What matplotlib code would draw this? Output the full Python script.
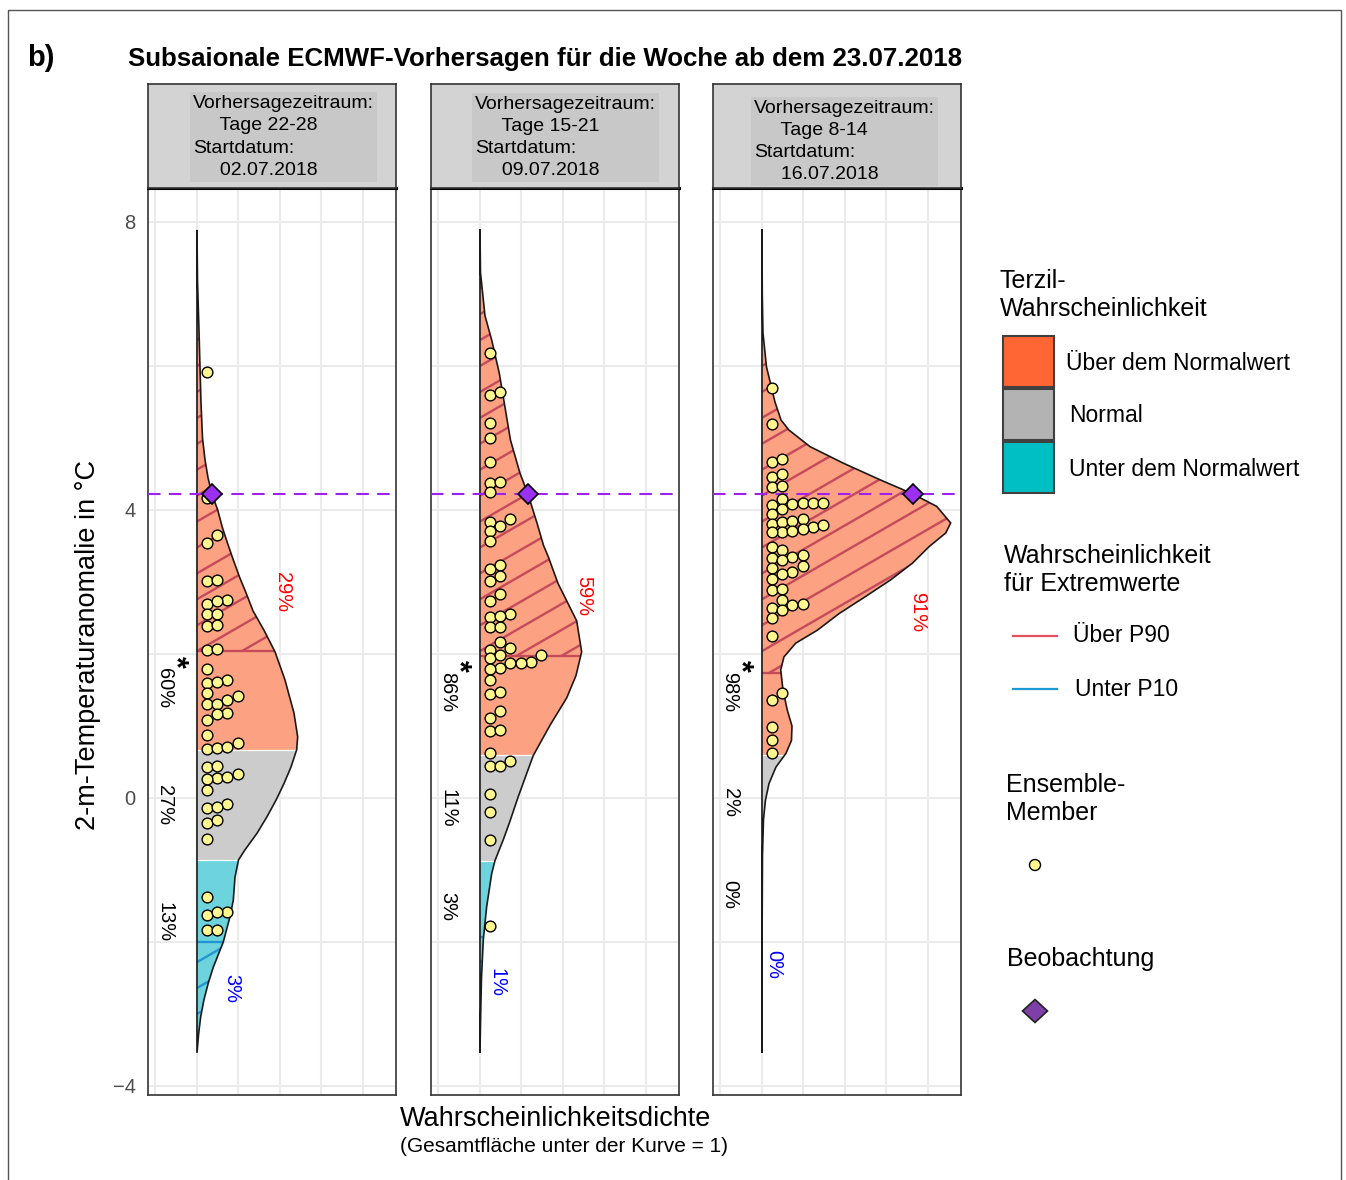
import numpy as np
import matplotlib
matplotlib.use("Agg")
import matplotlib.pyplot as plt
from matplotlib.patches import Polygon, Rectangle, Circle

plt.rcParams['font.family'] = ['Liberation Sans', 'DejaVu Sans']

W, H, DPI = 1346, 1180, 100

# ---------------- data ----------------
title = "Subsaionale ECMWF-Vorhersagen für die Woche ab dem 23.07.2018"
lead_times = ["Tage 22-28", "Tage 15-21", "Tage 8-14"]
start_dates = ["02.07.2018", "09.07.2018", "16.07.2018"]
observation = 4.22

curve1_temp = [7.89, 7.2, 6.5, 6.0, 5.5, 5.0, 4.7, 4.45, 4.22, 4.0, 3.76, 3.54, 3.3, 3.07,
               2.85, 2.6, 2.33, 2.03, 1.64, 1.18, 0.85, 0.67, 0.43, 0.2, -0.03, -0.26,
               -0.49, -0.72, -0.86, -1.1, -1.42, -1.65, -2.0, -2.35, -2.57, -2.8, -3.04,
               -3.27, -3.54]
curve1_dens = [0.0, 0.0012, 0.0048, 0.0072, 0.0096, 0.0133, 0.0193, 0.0265, 0.0361, 0.0499,
               0.061, 0.0735, 0.0879, 0.1024, 0.1181, 0.1349, 0.1614, 0.188, 0.212, 0.2337,
               0.2426, 0.2402, 0.2265, 0.2096, 0.1904, 0.1687, 0.1446, 0.1157, 0.1, 0.0916,
               0.0875, 0.0795, 0.0634, 0.0393, 0.0272, 0.0169, 0.0089, 0.0041, 0.0]

curve2_temp = [7.9, 7.3, 6.7, 6.36, 5.9, 5.43, 4.97, 4.51, 4.22, 3.82, 3.51, 3.35, 2.98,
               2.46, 2.03, 1.7, 1.39, 1.01, 0.59, 0.34, 0.02, -0.35, -0.58, -0.87, -1.05,
               -1.51, -1.97, -2.5, -3.0, -3.54]
curve2_dens = [0.0, 0.0012, 0.012, 0.0282, 0.0465, 0.0602, 0.0735, 0.0964, 0.1157, 0.1373,
               0.153, 0.1646, 0.188, 0.233, 0.245, 0.2313, 0.2089, 0.1687, 0.1284, 0.1125,
               0.0923, 0.0706, 0.0561, 0.0361, 0.0282, 0.0161, 0.008, 0.0036, 0.0017, 0.0]

curve3_temp = [7.9, 7.0, 6.46, 5.99, 5.5, 5.25, 5.11, 4.88, 4.65, 4.42, 4.23, 4.05, 3.82,
               3.68, 3.49, 3.26, 3.03, 2.8, 2.56, 2.33, 2.15, 1.96, 1.78, 1.5, 1.22, 1.0,
               0.8, 0.62, 0.43, 0.2, -0.03, -0.3, -0.8, -2.0, -3.54]
curve3_dens = [0.0, 0.0007, 0.0024, 0.0108, 0.0313, 0.0458, 0.065, 0.1157, 0.196, 0.2843,
               0.3607, 0.421, 0.4546, 0.4426, 0.4024, 0.3622, 0.3101, 0.2499, 0.1855,
               0.1333, 0.0812, 0.053, 0.0451, 0.0506, 0.061, 0.0723, 0.0711, 0.0578,
               0.0337, 0.0169, 0.0084, 0.0036, 0.0012, 0.0002, 0.0]

members1 = [5.91, 4.16, 3.54, 3.65, 3.02, 3.03, 2.69, 2.75, 2.73, 2.56, 2.56, 2.39, 2.40,
            2.06, 2.07, 1.79, 1.60, 1.64, 1.61, 1.46, 1.41, 1.36, 1.31, 1.31, 1.18, 1.17,
            1.09, 0.88, 0.68, 0.77, 0.69, 0.71, 0.43, 0.44, 0.28, 0.29, 0.27, 0.34, 0.11,
            -0.14, -0.08, -0.13, -0.35, -0.31, -0.57, -1.38, -1.63, -1.58, -1.59, -1.84,
            -1.83]
members2 = [6.18, 5.60, 5.64, 5.21, 5.00, 4.66, 4.38, 4.39, 4.25, 3.84, 3.88, 3.78, 3.71,
            3.57, 3.18, 3.24, 3.09, 3.02, 2.74, 2.83, 2.51, 2.56, 2.53, 2.38, 2.38, 2.16,
            2.06, 2.08, 1.94, 1.99, 1.99, 1.87, 1.81, 1.89, 1.88, 1.79, 1.64, 1.44, 1.47,
            1.21, 1.11, 0.93, 0.94, 0.63, 0.44, 0.52, 0.45, 0.06, -0.20, -0.58, -1.78]
members3 = [5.70, 5.19, 4.67, 4.71, 4.46, 4.50, 4.32, 4.33, 4.15, 4.07, 4.08, 4.10, 4.10,
            4.10, 4.02, 3.94, 3.88, 3.81, 3.84, 3.85, 3.77, 3.79, 3.73, 3.70, 3.71, 3.69,
            3.48, 3.44, 3.34, 3.35, 3.38, 3.30, 3.20, 3.22, 3.14, 3.11, 3.04, 2.89, 2.90,
            2.75, 2.68, 2.69, 2.64, 2.61, 2.50, 2.25, 1.46, 1.36, 0.98, 0.80, 0.62]

upper_tercile = [0.67, 0.60, 0.60]
lower_tercile = [-0.86, -0.875, -0.90]
p90 = [2.04, 1.97, 1.73]
p10 = [-2.00, -1.93, -2.05]

pct_above = ["60%", "86%", "98%"]
pct_normal = ["27%", "11%", "2%"]
pct_below = ["13%", "3%", "0%"]
pct_p90 = ["29%", "59%", "91%"]
pct_p10 = ["3%", "1%", "0%"]

curves = [(curve1_temp, curve1_dens), (curve2_temp, curve2_dens), (curve3_temp, curve3_dens)]
members = [members1, members2, members3]

# ---------------- style / layout ----------------
C_ABOVE, C_NORMAL, C_BELOW = '#FCA283', '#CCCCCC', '#6DD3DD'
L_ABOVE, L_NORMAL, L_BELOW = '#FF6633', '#B3B3B3', '#00BFC4'
HATCH_RED, HATCH_BLUE = '#C54A5A', '#2196D3'
PANEL_LEFT = [148, 431, 713]
PANEL_W = 248
PANEL_TOP, PANEL_BOT, STRIP_TOP = 188, 1095, 84
XLIM = (-0.118, 0.4795)
YLIM = (-4.125, 8.472)
DOT_DX = 0.0245
SWARM_DY = 0.12
HATCH_SLOPE = 3.33
HATCH_STEP = 0.36


def swarm_columns(values, dy):
    vals = np.asarray(values, float)
    cols = np.zeros(len(vals), int)
    placed = []
    for idx in np.argsort(vals, kind='stable'):
        y = vals[idx]
        k = 0
        while any(c == k and abs(py - y) < dy for c, py in placed):
            k += 1
        placed.append((k, y))
        cols[idx] = k
    return cols


fig = plt.figure(figsize=(W / DPI, H / DPI), dpi=DPI)
fig.patch.set_facecolor('white')


def frac_box(left, top, width, height):
    return [left / W, 1 - (top + height) / H, width / W, height / H]


for i in range(3):
    temps, dens = curves[i]
    ax = fig.add_axes(frac_box(PANEL_LEFT[i], PANEL_TOP, PANEL_W, PANEL_BOT - PANEL_TOP))
    ax.set_xlim(*XLIM)
    ax.set_ylim(*YLIM)
    ax.set_xticks([0, 0.2, 0.4])
    ax.set_xticks([-0.1, 0.1, 0.3], minor=True)
    ax.set_yticks([-4, 0, 4, 8])
    ax.set_yticks([-2, 2, 6], minor=True)
    ax.set_xticklabels([])
    if i > 0:
        ax.set_yticklabels([])
    ax.tick_params(which='both', length=0, labelsize=14.5, labelcolor='#4D4D4D', pad=9)
    ax.grid(which='both', color='#EBEBEB', lw=1.5)
    ax.set_axisbelow(True)
    for sp in ax.spines.values():
        sp.set_color('#333333')
        sp.set_linewidth(1.2)
    ax.spines['top'].set_color('black')
    ax.spines['top'].set_linewidth(2.2)

    poly_xy = np.column_stack([dens, temps])
    clip = Polygon(poly_xy, closed=True, fc='none', ec='none')
    ax.add_patch(clip)

    bands = [(upper_tercile[i], 20, C_ABOVE), (lower_tercile[i], upper_tercile[i], C_NORMAL),
             (-20, lower_tercile[i], C_BELOW)]
    for lo, hi, col in bands:
        r = Rectangle((0, lo), 1, hi - lo, fc=col, ec='none', zorder=2)
        ax.add_patch(r)
        r.set_clip_path(clip)
    for b in (upper_tercile[i], lower_tercile[i]):
        ln, = ax.plot([0, 1], [b, b], color='white', lw=0.9, zorder=2.5)
        ln.set_clip_path(clip)

    # hatching for extremes
    for c in np.arange(-12, 12, HATCH_STEP):
        xs0, xs1 = 0.0, 0.6
        xa = max(xs0, (p90[i] - c) / HATCH_SLOPE)
        if xa < xs1:
            ln, = ax.plot([xa, xs1], [c + HATCH_SLOPE * xa, c + HATCH_SLOPE * xs1],
                          color=HATCH_RED, lw=1.7, zorder=3, solid_capstyle='butt')
            ln.set_clip_path(clip)
        xb = min(xs1, (p10[i] - c) / HATCH_SLOPE)
        if xb > xs0:
            ln, = ax.plot([xs0, xb], [c, c + HATCH_SLOPE * xb],
                          color=HATCH_BLUE, lw=1.7, zorder=3, solid_capstyle='butt')
            ln.set_clip_path(clip)
    ln, = ax.plot([0, 1], [p90[i], p90[i]], color=HATCH_RED, lw=1.7, zorder=3)
    ln.set_clip_path(clip)
    ln, = ax.plot([0, 1], [p10[i], p10[i]], color=HATCH_BLUE, lw=1.7, zorder=3)
    ln.set_clip_path(clip)

    ax.add_patch(Polygon(poly_xy, closed=True, fc='none', ec='#1A1A1A', lw=1.2, zorder=5))

    ax.axhline(observation, color='#A020F0', lw=1.5, dashes=(6, 4), zorder=6)

    cols = swarm_columns(members[i], SWARM_DY)
    ax.scatter((cols + 1) * DOT_DX, members[i], s=60, c='#FFF68F', edgecolors='black',
               linewidths=1.0, zorder=7)

    order = np.argsort(temps)
    obs_d = np.interp(observation, np.asarray(temps)[order], np.asarray(dens)[order])
    ax.plot([obs_d], [observation], marker='D', ms=10.5, mfc='#9B30F0', mec='black',
            mew=1.2, zorder=9, ls='none')

    # strip
    sax = fig.add_axes(frac_box(PANEL_LEFT[i], STRIP_TOP, PANEL_W, PANEL_TOP - STRIP_TOP))
    sax.set_facecolor('#D3D3D3')
    sax.set_xticks([])
    sax.set_yticks([])
    for sp in sax.spines.values():
        sp.set_color('#333333')
        sp.set_linewidth(1.2)

# overlay axes in pixel coordinates for annotations and legend
ov = fig.add_axes([0, 0, 1, 1])
ov.set_xlim(0, W)
ov.set_ylim(H, 0)
ov.axis('off')

ov.add_patch(Rectangle((8, 10), 1333, 1200, fill=False, ec='#555555', lw=1.0))

strip_xy = [(193, 137), (475, 137.5), (754, 141.5)]
for i in range(3):
    sx, sy = strip_xy[i]
    ov.text(sx, sy, "Vorhersagezeitraum:\n     " + lead_times[i] + "\nStartdatum:\n     " + start_dates[i],
            ha='left', va='center', fontsize=14, linespacing=1.4,
            bbox=dict(fc='#C8C8C8', ec='none', pad=2))

ov.text(27, 58, 'b)', ha='left', va='center', fontsize=21, weight='bold')
ov.text(128, 59, title, ha='left', va='center', fontsize=18.6, weight='bold')
ov.text(88, 645, '2-m-Temperaturanomalie in °C', rotation=90, ha='center', va='center',
        fontsize=19.5)
ov.text(400, 1119, 'Wahrscheinlichkeitsdichte', ha='left', va='center', fontsize=19.5)
ov.text(400, 1146, '(Gesamtfläche unter der Kurve = 1)', ha='left', va='center', fontsize=15)

# percent labels
base_x = [197, 480, 762]
lab_y = [(688, 805, 922), (692, 808, 906), (692, 803, 895)]
red_xy = [(283, 592), (584, 596), (918, 612)]
blue_xy = [(232, 989), (497, 982), (774, 965)]
star_y = [662, 666, 666]
for i in range(3):
    bx = base_x[i]
    for txt, yy in zip((pct_above[i], pct_normal[i], pct_below[i]), lab_y[i]):
        ov.text(bx - 32, yy, txt, rotation=270, ha='center', va='center', fontsize=14.4)
    ov.text(bx - 22, star_y[i], '*', rotation=270, ha='center', va='center', fontsize=22,
            weight='bold')
    ov.text(*red_xy[i], pct_p90[i], rotation=270, ha='center', va='center', fontsize=14.4,
            color='#FF0000')
    ov.text(*blue_xy[i], pct_p10[i], rotation=270, ha='center', va='center', fontsize=14.4,
            color='#0000FF')

# legend
ov.text(1000, 281, 'Terzil-', ha='left', va='center', fontsize=18)
ov.text(1000, 309, 'Wahrscheinlichkeit', ha='left', va='center', fontsize=18)
for (yy, col, lab, lx) in [(336, L_ABOVE, 'Über dem Normalwert', 1066),
                           (389, L_NORMAL, 'Normal', 1069),
                           (442, L_BELOW, 'Unter dem Normalwert', 1069)]:
    ov.add_patch(Rectangle((1003, yy), 51, 51, fc=col, ec='#404040', lw=1.5))
    ov.text(lx, yy + 27, lab, ha='left', va='center', fontsize=16.5)
ov.text(1004, 556, 'Wahrscheinlichkeit', ha='left', va='center', fontsize=18)
ov.text(1004, 584, 'für Extremwerte', ha='left', va='center', fontsize=18)
ov.plot([1013, 1057], [636, 636], color='#E4505F', lw=1.6)
ov.text(1073, 636, 'Über P90', ha='left', va='center', fontsize=16.5)
ov.plot([1013, 1057], [689, 689], color='#1C9AD6', lw=1.6)
ov.text(1075, 689, 'Unter P10', ha='left', va='center', fontsize=16.5)
ov.text(1006, 785, 'Ensemble-', ha='left', va='center', fontsize=18)
ov.text(1006, 813, 'Member', ha='left', va='center', fontsize=18)
ov.add_patch(Circle((1035, 865), 5.5, fc='#FFF68F', ec='black', lw=1.0))
ov.text(1007, 959, 'Beobachtung', ha='left', va='center', fontsize=18)
ov.add_patch(Polygon([(1022.5, 1011), (1035, 999.5), (1047.5, 1011), (1035, 1022.5)],
                     closed=True, fc='#7F3FA8', ec='#222222', lw=1.2))

fig.savefig('out.png', dpi=DPI)
